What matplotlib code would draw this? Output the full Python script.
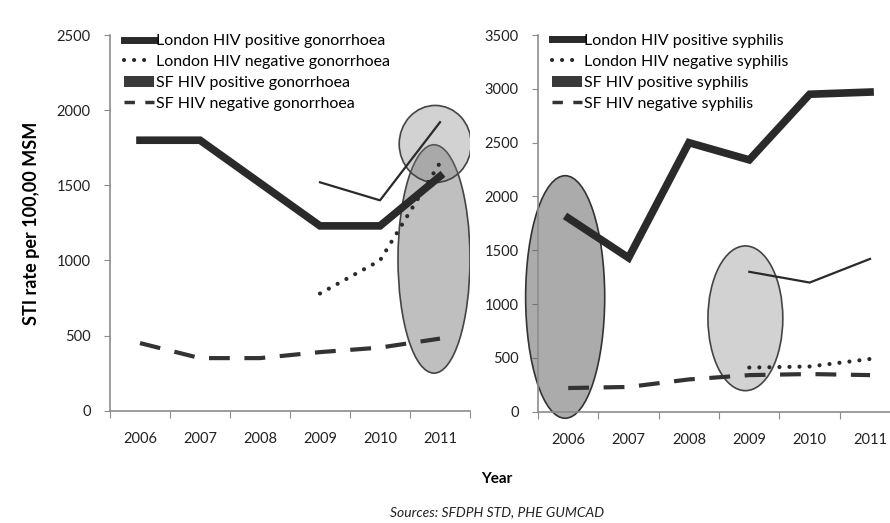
import matplotlib
matplotlib.use("Agg")
import matplotlib.pyplot as plt
from matplotlib.patches import Ellipse, Patch
from matplotlib.lines import Line2D

plt.rcParams['font.family'] = ['Lato', 'DejaVu Sans']

years = ['2006', '2007', '2008', '2009', '2010', '2011']

# gonorrhoea (left panel)
gon_thick = [1800, 1800, 1515, 1230, 1230, 1560]
gon_thin = [None, None, None, 1520, 1400, 1920]
gon_dotted = [None, None, None, 780, 1000, 1650]
gon_dashed = [450, 350, 350, 390, 420, 480]

# syphilis (right panel)
syp_thick = [1800, 1430, 2500, 2340, 2950, 2970]
syp_thin = [None, None, None, 1300, 1200, 1420]
syp_dotted = [None, None, None, 410, 420, 490]
syp_dashed = [220, 230, 300, 340, 350, 340]

gon_labels = ['London HIV positive gonorrhoea', 'London HIV negative gonorrhoea',
              'SF HIV positive gonorrhoea', 'SF HIV negative gonorrhoea']
syp_labels = ['London HIV positive syphilis', 'London HIV negative syphilis',
              'SF HIV positive syphilis', 'SF HIV negative syphilis']

DARK = '#2a2a2a'
AXC = '#8c8c8c'
DOTS = (0, (0.01, 2.4))


def pick(vals):
    xs = [i for i, v in enumerate(vals) if v is not None]
    ys = [v for v in vals if v is not None]
    return xs, ys


def draw_panel(ax, thick, thin, dotted, dashed, labels, ymax):
    ax.plot(*pick(thick), color=DARK, lw=5.5, solid_joinstyle='miter', zorder=5)
    ax.plot(*pick(thin), color=DARK, lw=1.6, zorder=5)
    ax.plot(*pick(dotted), color=DARK, lw=3, linestyle=DOTS,
            dash_capstyle='round', zorder=5)
    ax.plot(*pick(dashed), color='#333333', lw=3, dashes=(5, 3.5), zorder=5)

    ax.set_xlim(-0.5, 5.5)
    ax.set_ylim(0, ymax)
    ax.set_yticks(range(0, ymax + 1, 500))
    ax.set_xticks([i - 0.5 for i in range(len(years) + 1)])
    ax.set_xticklabels([])
    ax.set_xticks(range(len(years)), minor=True)
    ax.set_xticklabels(years, minor=True)
    ax.tick_params(axis='x', which='minor', length=0, pad=15, labelsize=10.5, colors='#222222')
    ax.tick_params(axis='x', which='major', length=5, color=AXC)
    ax.tick_params(axis='y', length=4, color=AXC, labelsize=10.5, labelcolor='#222222', pad=10)
    for s in ['top', 'right']:
        ax.spines[s].set_visible(False)
    for s in ['left', 'bottom']:
        ax.spines[s].set_color(AXC)
        ax.spines[s].set_linewidth(1.2)

    handles = [Line2D([], [], color=DARK, lw=5),
               Line2D([], [], color=DARK, lw=3, linestyle=DOTS, dash_capstyle='round'),
               Patch(facecolor='#3a3a3a', edgecolor='none'),
               Line2D([], [], color='#333333', lw=2.5, dashes=(3, 3))]
    ax.legend(handles, labels, loc='upper left', bbox_to_anchor=(0.02, 1.02), frameon=False,
              fontsize=11.5, handlelength=1.9, handletextpad=0.1, labelspacing=0.42,
              borderaxespad=0)


fig = plt.figure(figsize=(8.9, 5.23), dpi=100)
ax1 = fig.add_axes([0.1236, 0.2147, 0.4045, 0.7183])
ax2 = fig.add_axes([0.6045, 0.2128, 0.407, 0.7202])

draw_panel(ax1, gon_thick, gon_thin, gon_dotted, gon_dashed, gon_labels, 2500)
draw_panel(ax2, syp_thick, syp_thin, syp_dotted, syp_dashed, syp_labels, 3500)

# highlight ellipses
ax1.add_patch(Ellipse((4.9, 1010), 1.2, 1520, facecolor=(0.45, 0.45, 0.45, 0.45),
                      edgecolor='#444444', lw=1.2, zorder=2))
ax1.add_patch(Ellipse((4.92, 1775), 1.2, 513, facecolor=(0.5, 0.5, 0.5, 0.35),
                      edgecolor='#444444', lw=1.2, zorder=3))
ax2.add_patch(Ellipse((-0.05, 1066), 1.31, 2254, facecolor=(0.35, 0.35, 0.35, 0.5),
                      edgecolor='#333333', lw=1.2, zorder=2, clip_on=False))
ax2.add_patch(Ellipse((2.935, 868), 1.24, 1345, facecolor=(0.5, 0.5, 0.5, 0.35),
                      edgecolor='#444444', lw=1.2, zorder=2))

ax1.set_ylabel('STI rate per 100,00 MSM', fontsize=13, fontweight='bold', labelpad=12)
fig.text(0.558, 0.085, 'Year', ha='center', va='center', fontsize=11, fontweight='bold')
fig.text(0.558, 0.02, 'Sources: SFDPH STD, PHE GUMCAD', ha='center', va='center',
         fontsize=10, style='italic', color='#222222')

fig.savefig('out.png', dpi=100)
